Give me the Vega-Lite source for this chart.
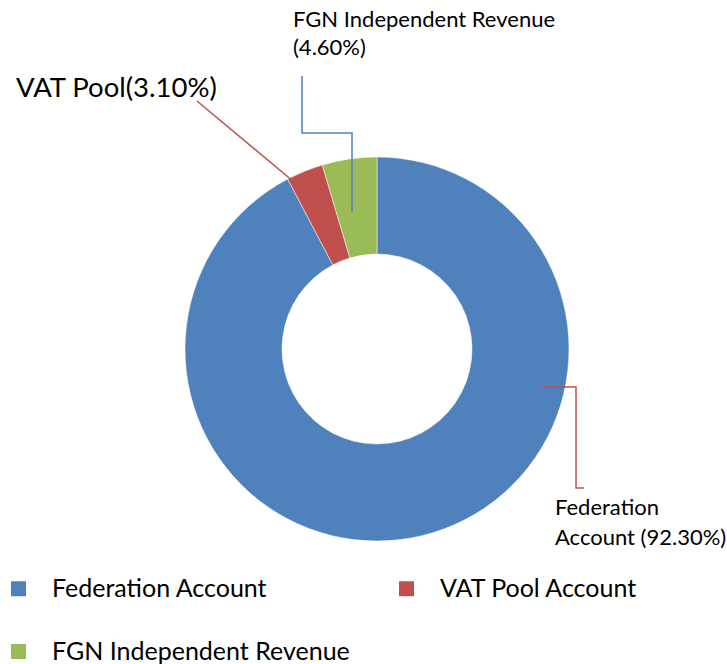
{
  "$schema": "https://vega.github.io/schema/vega-lite/v6.json",
  "width": 727,
  "height": 664,
  "autosize": {"type": "fit", "contains": "padding"},
  "padding": 0,
  "background": "white",
  "config": {"view": {"stroke": null}, "font": "Lato"},
  "datasets": {
    "slices": [
      {"account": "Federation Account", "share": 92.3, "rank": 1},
      {"account": "VAT Pool Account", "share": 3.1, "rank": 2},
      {"account": "FGN Independent Revenue", "share": 4.6, "rank": 3}
    ],
    "leaders": [
      {"series": "VAT", "pt": 1, "x": -0.9375, "y": 1.2917},
      {"series": "VAT", "pt": 2, "x": -0.3698, "y": 0.8177},
      {"series": "FGN", "pt": 1, "x": -0.3906, "y": 1.4219},
      {"series": "FGN", "pt": 2, "x": -0.3906, "y": 1.125},
      {"series": "FGN", "pt": 3, "x": -0.1302, "y": 1.125},
      {"series": "FGN", "pt": 4, "x": -0.1302, "y": 0.7135},
      {"series": "Federation", "pt": 1, "x": 0.8594, "y": -0.1979},
      {"series": "Federation", "pt": 2, "x": 1.0365, "y": -0.1979},
      {"series": "Federation", "pt": 3, "x": 1.0365, "y": -0.724},
      {"series": "Federation", "pt": 4, "x": 1.0781, "y": -0.724}
    ],
    "labels": [
      {"kind": "vat", "label": "VAT Pool(3.10%)", "x": -1.8802, "y": 1.3125},
      {"kind": "fgn", "label": "FGN Independent Revenue\n(4.60%)", "x": -0.4375, "y": 1.677},
      {"kind": "fed", "label": "Federation\nAccount (92.30%)", "x": 0.927, "y": -0.8646}
    ]
  },
  "layer": [
    {
      "data": {"name": "slices"},
      "mark": {"type": "arc", "outerRadius": 192, "innerRadius": 95, "stroke": "#ffffff", "strokeWidth": 0.5},
      "encoding": {
        "theta": {"field": "share", "type": "quantitative", "stack": true},
        "order": {"field": "rank", "type": "quantitative"},
        "color": {
          "field": "account",
          "type": "nominal",
          "scale": {
            "domain": ["Federation Account", "VAT Pool Account", "FGN Independent Revenue"],
            "range": ["#4F81BD", "#C0504D", "#9BBB59"]
          },
          "legend": {
            "orient": "none",
            "direction": "horizontal",
            "legendX": 6,
            "legendY": 576,
            "title": null,
            "columns": 2,
            "columnPadding": 44,
            "rowPadding": 37,
            "padding": 0,
            "symbolType": "square",
            "symbolSize": 225,
            "symbolStrokeWidth": 0,
            "labelOffset": 21,
            "labelFont": "Lato",
            "labelFontSize": 25,
            "labelColor": "#000000",
            "labelLimit": 0
          }
        },
        "x": {"datum": 0, "type": "quantitative", "scale": {"domain": [-1.9635, 1.8229], "nice": false, "zero": false}, "axis": null},
        "y": {"datum": 0, "type": "quantitative", "scale": {"domain": [-1.6406, 1.8177], "nice": false, "zero": false}, "axis": null}
      }
    },
    {
      "data": {"name": "leaders"},
      "mark": {"type": "line", "strokeWidth": 1.5},
      "encoding": {
        "x": {"field": "x", "type": "quantitative", "axis": null},
        "y": {"field": "y", "type": "quantitative", "axis": null},
        "detail": {"field": "series", "type": "nominal"},
        "order": {"field": "pt", "type": "quantitative"},
        "stroke": {
          "field": "series",
          "type": "nominal",
          "scale": {"domain": ["VAT", "FGN", "Federation"], "range": ["#C0504D", "#4F81BD", "#C0504D"]},
          "legend": null
        }
      }
    },
    {
      "data": {"name": "labels"},
      "transform": [{"filter": "datum.kind === 'vat'"}],
      "mark": {"type": "text", "align": "left", "baseline": "alphabetic", "fontSize": 27.5, "font": "Lato", "color": "#000000", "lineBreak": "\n"},
      "encoding": {
        "x": {"field": "x", "type": "quantitative", "axis": null},
        "y": {"field": "y", "type": "quantitative", "axis": null},
        "text": {"field": "label", "type": "nominal"}
      }
    },
    {
      "data": {"name": "labels"},
      "transform": [{"filter": "datum.kind === 'fgn'"}],
      "mark": {"type": "text", "align": "left", "baseline": "alphabetic", "fontSize": 22, "font": "Lato", "color": "#000000", "lineBreak": "\n", "lineHeight": 28},
      "encoding": {
        "x": {"field": "x", "type": "quantitative", "axis": null},
        "y": {"field": "y", "type": "quantitative", "axis": null},
        "text": {"field": "label", "type": "nominal"}
      }
    },
    {
      "data": {"name": "labels"},
      "transform": [{"filter": "datum.kind === 'fed'"}],
      "mark": {"type": "text", "align": "left", "baseline": "alphabetic", "fontSize": 22, "font": "Lato", "color": "#000000", "lineBreak": "\n", "lineHeight": 30},
      "encoding": {
        "x": {"field": "x", "type": "quantitative", "axis": null},
        "y": {"field": "y", "type": "quantitative", "axis": null},
        "text": {"field": "label", "type": "nominal"}
      }
    }
  ]
}
